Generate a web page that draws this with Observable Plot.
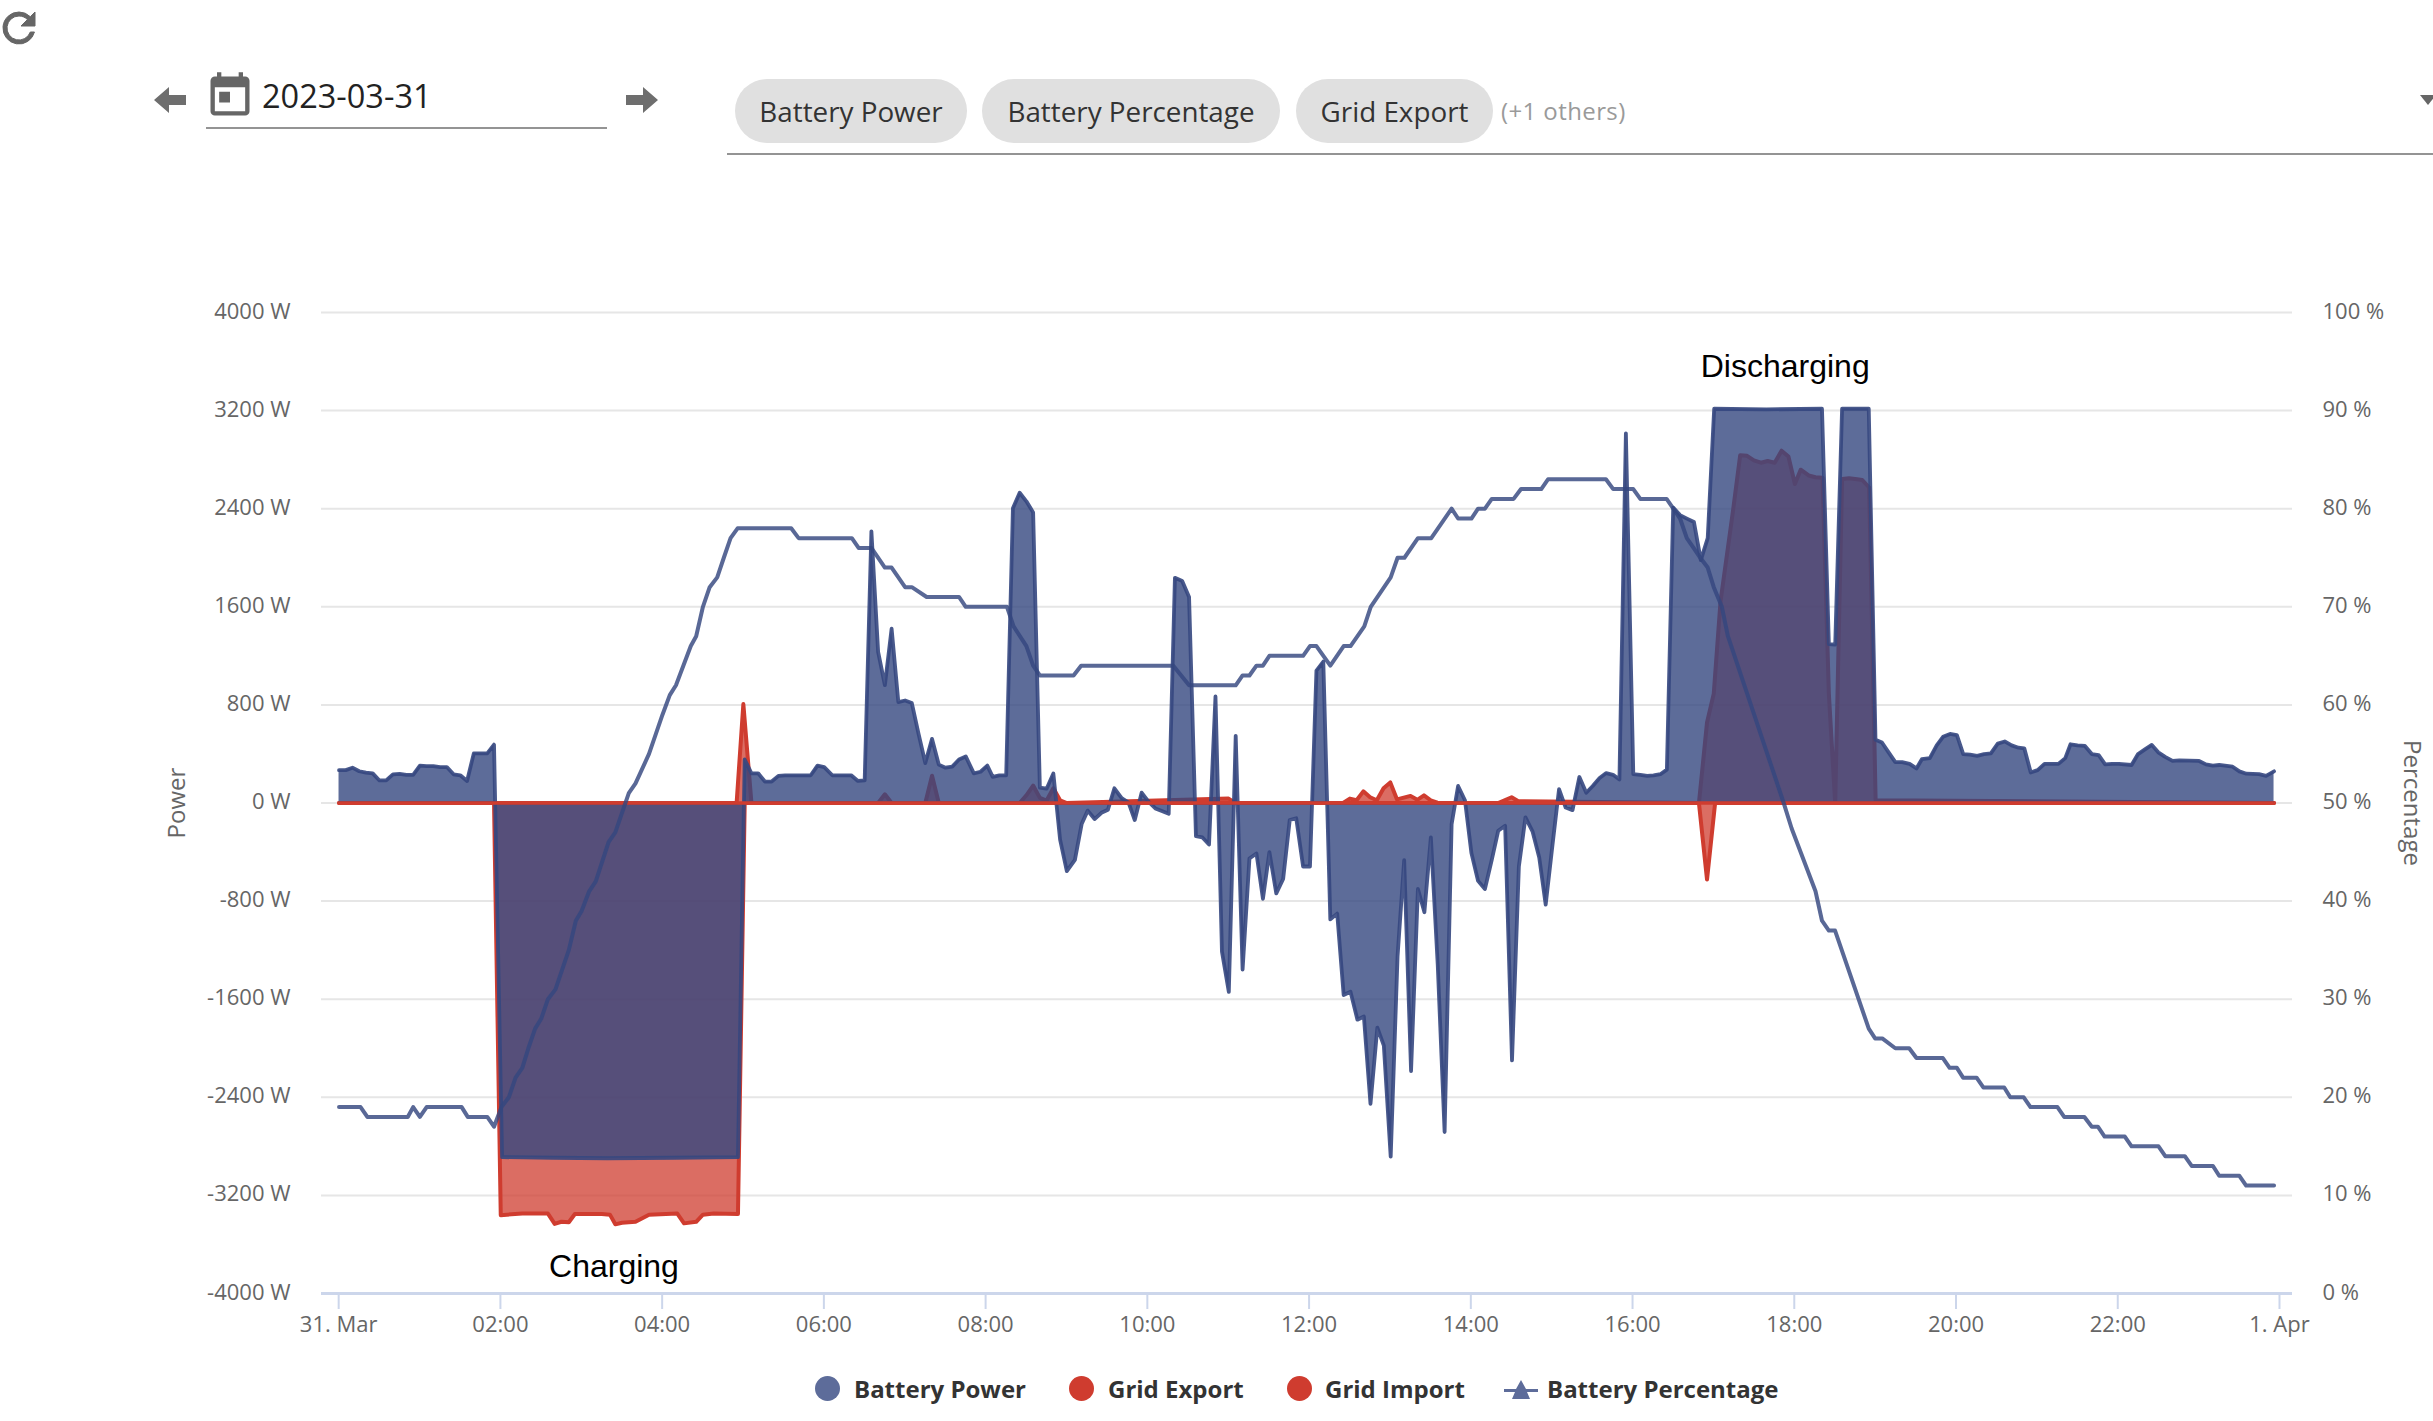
<!DOCTYPE html>
<html>
<head>
<meta charset="utf-8">
<script src="https://cdn.jsdelivr.net/npm/d3@7"></script>
<script src="https://cdn.jsdelivr.net/npm/@observablehq/plot@0.6"></script>
<style>
html,body{margin:0;padding:0;background:#fff;overflow:hidden}
#page{position:relative;width:2433px;height:1421px;font-family:"Open Sans",sans-serif;overflow:hidden}
#header{position:relative;height:250px}
#chart{position:absolute;left:0;top:250px}
.abs{position:absolute}
.chip{position:absolute;top:79px;height:64px;border-radius:32px;background:#e0e0e0;color:#333;font-size:27.8px;line-height:65px;text-align:center}
.legend{position:absolute;top:1370px;font-size:24px;font-weight:700;color:#333;line-height:38px;white-space:nowrap}
.dot{position:absolute;top:1376px;width:25px;height:25px;border-radius:50%}
</style>
</head>
<body>
<div id="page">
  <div id="header">
    <svg class="abs" style="left:-5px;top:4px" width="48" height="48" viewBox="0 0 24 24"><path fill="#666" stroke="#666" stroke-width=".5" d="M17.65 6.35A7.96 7.96 0 0 0 12 4a8 8 0 1 0 7.73 10h-2.08A6 6 0 1 1 12 6c1.66 0 3.14.69 4.22 1.78L13 11h7V4l-2.35 2.35z"/></svg>
    <svg class="abs" style="left:152px;top:83px" width="36" height="34" viewBox="0 0 36 34"><path fill="#6e6e6e" d="M2 17 17 4v8h17v10H17v8z"/></svg>
    <svg class="abs" style="left:204px;top:70px" width="52" height="52" viewBox="0 0 24 24"><path fill="#666" d="M19 3h-1V1h-2v2H8V1H6v2H5a2 2 0 0 0-2 2v14a2 2 0 0 0 2 2h14a2 2 0 0 0 2-2V5a2 2 0 0 0-2-2zm0 16H5V8h14v11zM7 10h5v5H7z"/></svg>
    <div class="abs" style="left:262px;top:71px;font-size:32.5px;color:#222;line-height:50px">2023-03-31</div>
    <div class="abs" style="left:206px;top:127px;width:401px;height:2px;background:#949494"></div>
    <svg class="abs" style="left:624px;top:83px" width="36" height="34" viewBox="0 0 36 34"><path fill="#6e6e6e" d="M34 17 19 4v8H2v10h17v8z"/></svg>
    <div class="chip" style="left:735px;width:232px">Battery Power</div>
    <div class="chip" style="left:982px;width:298px">Battery Percentage</div>
    <div class="chip" style="left:1296px;width:197px">Grid Export</div>
    <div class="abs" style="left:1501px;top:92px;font-size:24px;color:#9a9a9a;line-height:38px;letter-spacing:.4px">(+1 others)</div>
    <div class="abs" style="left:727px;top:153px;width:1706px;height:2px;background:#949494"></div>
    <svg class="abs" style="left:2420px;top:95px" width="13" height="12" viewBox="0 0 13 12"><path fill="#666" d="M0 0h16L8 10z"/></svg>
  </div>
  <div id="chart"></div>
  <div class="dot" style="left:815px;background:#5d6c9a"></div>
  <div class="legend" style="left:854px">Battery Power</div>
  <div class="dot" style="left:1069px;background:#cf3c2f"></div>
  <div class="legend" style="left:1108px">Grid Export</div>
  <div class="dot" style="left:1287px;background:#cf3c2f"></div>
  <div class="legend" style="left:1325px">Grid Import</div>
  <svg class="abs" style="left:1504px;top:1377px" width="34" height="24" viewBox="0 0 34 24"><path fill="#5d6c9a" d="M17 3 22 12h12v3H23l3 7H8l3-7H0v-3h12z"/></svg>
  <div class="legend" style="left:1547px">Battery Percentage</div>
</div>
<script>
// Minutes after midnight on 2023-03-31, power in watts
const batteryPowerMinutes = [1,6,11,16,21,26,31,36,41,46,51,56,61,66,71,76,81,86,91,96,101,106,111,116,122,160,200,250,297,302,307,312,317,322,327,332,351,356,361,367,381,386,391,396,401,406,411,416,421,426,431,436,441,446,451,456,461,466,472,477,482,486,491,496,501,506,511,516,521,526,531,536,541,547,552,556.5,561.6,566.7,571.5,576.3,581.7,586.8,591.4,596.5,601.6,606.7,611.5,616.6,621.2,626.6,631.7,636.8,641.6,646.5,651.3,656.1,661.2,666.3,671.4,676.5,681.7,686.5,691.3,696.4,701.5,706.4,711.2,716.3,721.4,726.2,731.3,736.5,741.6,746.4,751.5,756.6,761.4,766.3,771.4,776.2,781.3,786.4,791.3,796.4,801.5,806.3,811.1,816.2,821.3,826.5,831.3,836.4,841.2,846.1,851.2,856.3,861.1,866.2,871.3,876.4,881.3,886.6,891.5,896.3,901.4,906.2,911.1,916.2,921.3,926.4,931.2,936.3,941.2,946.3,951,955.8,961.3,966.5,971.6,976.3,981.4,986.2,990.9,996,1001.1,1006.3,1011.4,1016.5,1021.3,1060,1101.3,1106.4,1111.1,1116.2,1136,1141,1145.8,1150.1,1155.7,1160.8,1166.3,1171.4,1175.4,1181.3,1186.4,1191.1,1196.3,1201.4,1206.1,1211.2,1216.4,1221.5,1226.6,1231.7,1236.9,1242,1247.1,1251.4,1256.2,1261.3,1266.4,1271.5,1276.7,1281.8,1285.7,1290.9,1296.4,1301.5,1306.6,1311.4,1316.5,1321.6,1331,1335.8,1340.9,1346,1350.8,1355.9,1361.4,1366.5,1381.1,1386.2,1391.3,1396,1406,1411,1416.2,1425.6,1430.8,1436.7];
const batteryPowerWatts = [268,268,288,259,247,242,184,184,234,238,230,230,305,301,301,293,293,234,226,180,405,405,405,476,-2888,-2893,-2897,-2893,-2888,355,242,242,175,175,221,226,226,305,293,226,226,180,184,2215,1233,961,1421,823,836,815,564,326,523,313,288,297,355,380,242,255,305,213,226,226,2404,2530,2460,2370,125,117,241,-299,-555,-464,-172,-62,-131,-80,-55,120,40,4,-139,84,11,-44,-66,-88,1836,1810,1679,-270,-281,-339,869,-1212,-1540,547,-1358,-453,-412,-781,-401,-737,-620,-139,-124,-518,-518,1080,1153,-949,-902,-1566,-1540,-1767,-1741,-2453,-1832,-1978,-2884,-1248,-467,-2186,-701,-891,-281,-1321,-2683,-172,139,22,-409,-635,-701,-464,-226,-186,-2099,-518,-117,-234,-445,-829,-336,113,-37,-58,212,84,139,204,244,230,192,3014,235,230,221,225,235,272,2409,2348,2319,2291,1981,2160,3215,3210,3215,1296,1291,3215,3215,516,493,423,333,333,319,282,357,366,470,540,563,554,399,394,385,399,404,484,502,470,451,446,249,268,319,319,319,366,479,470,465,399,390,315,319,319,310,399,437,474,413,376,343,347,343,315,305,310,296,258,239,235,221,258];

const gridExportMinutes = [1,296,301,307,401,406,411,436,441,446,506,511,516,521,526,531,536,541,661,666,746,751,756,761,766,771,776,781,786,791,796,801,806,811,816,861,871,876,1010,1016,1021,1026,1035.4,1040.6,1045.7,1050.8,1056,1061,1066.2,1071.3,1076.4,1081.2,1085.5,1091.4,1096.5,1101.7,1106.4,1111.1,1116.2,1121.4,1126,1131.2,1136.3,1141.1,1436.7];
const gridExportWatts = [0,0,807,0,0,71,0,0,222,0,0,63,142,42,20,120,22,0,36,0,0,36,22,95,47,22,120,168,29,44,58,26,62,22,3,0,47,15,0,657,892,1643,2394,2836,2831,2794,2775,2789,2775,2873,2826,2601,2718,2671,2657,2653,892,0,2643,2648,2643,2634,2573,23,0];

const gridImportMinutes = [1,116,121,137,156,161,166,171.5,176,196,202,206,211,221,231,252,257,266,271,279,297,302,1010,1016,1022,1436.7];
const gridImportWatts = [0,0,-3361,-3348,-3348,-3432,-3415,-3419,-3352,-3352,-3357,-3436,-3423,-3415,-3357,-3348,-3428,-3415,-3357,-3348,-3352,0,0,-624,0,0];

// Battery state of charge in percent
const batteryPercentMinutes = [1,17,22,52,56,61,66,92,96.5,111,116,121.5,127,132,137,141.5,146.5,151,156,161.6,166.5,171.5,176.7,181,186.6,191.5,201,206,216,221,231,241,246.4,251,262,266,271,276,281.6,286.5,291.5,296.7,336.5,342,381.5,386.5,396,406,411,421,426,437,461,466,496.6,501.5,511,516,521,546,551.6,620,631.7,666.3,671.4,676.5,681.7,686.5,691.3,716.3,721.4,726.2,736.5,746.4,751.5,761.7,766.5,781.3,786.4,791.5,801.5,811.4,826.5,831.3,841.2,846.1,851.2,856.3,872.5,878,893,898,941,946.4,961.3,966.5,986,991,996,1001,1006,1011,1016.5,1021,1027,1031.5,1072.9,1078.8,1096.5,1101.3,1106.4,1111,1136,1140.7,1146,1155.7,1166,1171.4,1191,1196,1201.4,1206,1216,1221,1236.5,1241,1251,1256,1276,1281,1296,1301.5,1306,1311,1326,1331,1351,1356,1370.5,1375.6,1391.4,1396,1411,1416,1436.7];
const batteryPercentValues = [19,19,18,18,19,18,19,19,18,18,17,19,20,22,23,25,27,28,30,31,33,35,38,39,41,42,46,47,51,52,55,59,61,62,66,67,70,72,73,75,77,78,78,77,77,76,76,74,74,72,72,71,71,70,70,68,66,64,63,63,64,64,62,62,63,63,64,64,65,65,66,66,64,66,66,68,70,73,75,75,77,77,80,79,79,80,80,81,81,82,82,83,83,82,82,81,81,80,79,77,76,75,74,72,70,67,50,47.4,41,38,37,37,27,26,26,25,25,24,24,23,23,22,22,21,21,20,20,19,19,18,18,17,17,16,16,15,15,14,14,13,13,12,12,11,11];

const powerTicks = [-3200,-2400,-1600,-800,0,800,1600,2400,3200,4000];
const hourTicks = [0,120,240,360,480,600,720,840,960,1080,1200,1320,1440];
const hourTickLabels = ["31. Mar","02:00","04:00","06:00","08:00","10:00","12:00","14:00","16:00","18:00","20:00","22:00","1. Apr"];

const zip = (xs, ys) => xs.map((x, i) => ({x, y: ys[i]}));
const batteryPower = zip(batteryPowerMinutes, batteryPowerWatts);
const gridExport = zip(gridExportMinutes, gridExportWatts);
const gridImport = zip(gridImportMinutes, gridImportWatts);
// The percentage axis shares the frame: 0 % sits at -4000 W and 100 % at 4000 W
const wattsPerPercent = 80;
const batteryPercent = zip(batteryPercentMinutes, batteryPercentValues.map(p => (p - 50) * wattsPerPercent));

const BLUE = "#35477f", RED = "#cf3c2f", MUTED = "#666666", AXIS = "#ccd6eb", GRID = "#e6e6e6";
const sans = "'Open Sans',sans-serif", label = "'Liberation Sans',Arial,sans-serif";

const chart = Plot.plot({
  width: 2433, height: 1110,
  marginLeft: 321, marginRight: 141, marginTop: 62, marginBottom: 67,
  style: {fontFamily: sans, fontSize: "22px", background: "#fff", overflow: "visible"},
  x: {domain: [-12, 1450.4]},
  y: {domain: [-4000, 4000]},
  marks: [
    Plot.ruleY(powerTicks, {stroke: GRID, strokeWidth: 2}),
    Plot.ruleY([-4000], {stroke: AXIS, strokeWidth: 3}),
    Plot.axisX({
      ticks: hourTicks, tickSize: 16, tickPadding: 7, stroke: AXIS, strokeWidth: 2, fill: MUTED, dx: 1,
      tickFormat: m => hourTickLabels[hourTicks.indexOf(m)], label: null
    }),
    Plot.axisY({
      anchor: "left", ticks: [-4000, ...powerTicks], tickSize: 0, tickPadding: 31, fill: MUTED, dy: -1,
      tickFormat: v => `${v} W`, label: null
    }),
    Plot.axisY({
      anchor: "right", ticks: [-4000, ...powerTicks], tickSize: 0, tickPadding: 30, fill: MUTED, dy: -1,
      tickFormat: v => `${v / wattsPerPercent + 50} %`, label: null
    }),
    Plot.text(["Power"], {frameAnchor: "left", textAnchor: "middle", rotate: -90, dx: -144, fill: MUTED, fontSize: 24}),
    Plot.text(["Percentage"], {frameAnchor: "right", textAnchor: "middle", rotate: 90, dx: 119, fill: MUTED, fontSize: 24}),

    Plot.areaY(gridExport, {x: "x", y: "y", fill: RED, fillOpacity: 0.75}),
    Plot.lineY(gridExport, {x: "x", y: "y", stroke: RED, strokeWidth: 4}),
    Plot.areaY(gridImport, {x: "x", y: "y", fill: RED, fillOpacity: 0.75}),
    Plot.lineY(gridImport, {x: "x", y: "y", stroke: RED, strokeWidth: 4}),

    Plot.areaY(batteryPower, {x: "x", y: "y", fill: BLUE, fillOpacity: 0.8}),
    Plot.lineY(batteryPower, {x: "x", y: "y", stroke: BLUE, strokeWidth: 3.8, strokeOpacity: 0.9}),

    Plot.ruleY([0], {x1: 1, x2: 1436.7, stroke: RED, strokeWidth: 3.5}),
    Plot.lineY(batteryPercent, {x: "x", y: "y", stroke: BLUE, strokeWidth: 4, strokeOpacity: 0.82}),

    Plot.text(["Charging"], {x: 205, y: -3783, fontFamily: label, fontSize: 32, fill: "#000"}),
    Plot.text(["Discharging"], {x: 1074, y: 3555, fontFamily: label, fontSize: 32, fill: "#000"})
  ]
});
document.getElementById("chart").appendChild(chart);
</script>
</body>
</html>
